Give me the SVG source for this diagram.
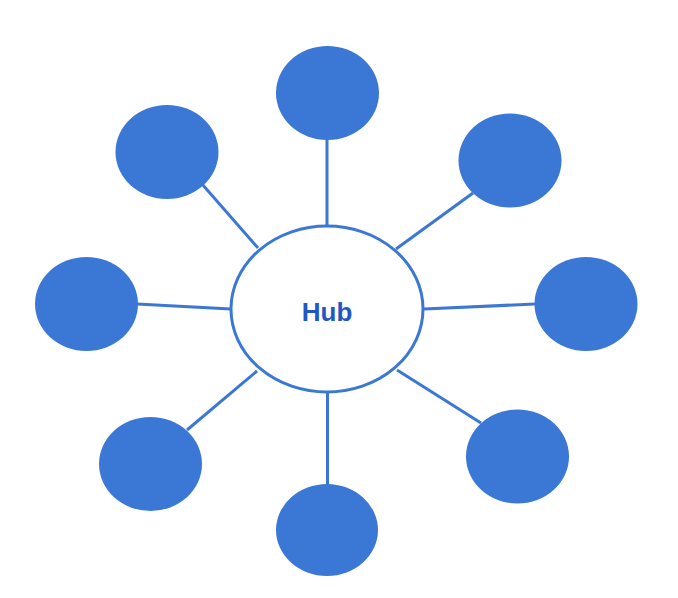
<svg xmlns="http://www.w3.org/2000/svg" width="678" height="598" viewBox="0 0 678 598">
  <style>
    .leaf { fill: #3b78d6; }
    .edge { stroke: #3b78d6; stroke-width: 3; fill: none; }
    .hub { fill: #ffffff; stroke: #3b78d6; stroke-width: 3; }
    .hubtext { font-family: "Liberation Sans", Arial, sans-serif; font-weight: bold; font-size: 26px; fill: #1f58c6; }
  </style>
  <rect width="678" height="598" fill="#ffffff"/>
  <g id="connectors">
    <line class="edge" x1="327" y1="139" x2="327" y2="226"/>
    <line class="edge" x1="202" y1="184" x2="258" y2="248"/>
    <line class="edge" x1="473" y1="193" x2="396" y2="249"/>
    <line class="edge" x1="137" y1="304" x2="231" y2="309"/>
    <line class="edge" x1="535" y1="304" x2="424" y2="309"/>
    <line class="edge" x1="187" y1="430" x2="257" y2="371"/>
    <line class="edge" x1="481" y1="423" x2="397" y2="370"/>
    <line class="edge" x1="327.5" y1="392" x2="327.5" y2="485"/>
  </g>
  <g id="hub">
    <ellipse class="hub" cx="327" cy="309" rx="96" ry="83"/>
    <text class="hubtext" x="327" y="321" text-anchor="middle">Hub</text>
  </g>
  <g id="node-top"><ellipse class="leaf" cx="327.5" cy="93" rx="51.5" ry="47"/></g>
  <g id="node-top-left"><ellipse class="leaf" cx="167" cy="152" rx="51.5" ry="47"/></g>
  <g id="node-top-right"><ellipse class="leaf" cx="510" cy="160.5" rx="51.5" ry="47"/></g>
  <g id="node-left"><ellipse class="leaf" cx="86.5" cy="304" rx="51.5" ry="47"/></g>
  <g id="node-right"><ellipse class="leaf" cx="586" cy="304" rx="51.5" ry="47"/></g>
  <g id="node-bottom-left"><ellipse class="leaf" cx="150.5" cy="464" rx="51.5" ry="47"/></g>
  <g id="node-bottom-right"><ellipse class="leaf" cx="517.5" cy="456.5" rx="51.5" ry="47"/></g>
  <g id="node-bottom"><ellipse class="leaf" cx="327" cy="530" rx="51" ry="46"/></g>
</svg>
